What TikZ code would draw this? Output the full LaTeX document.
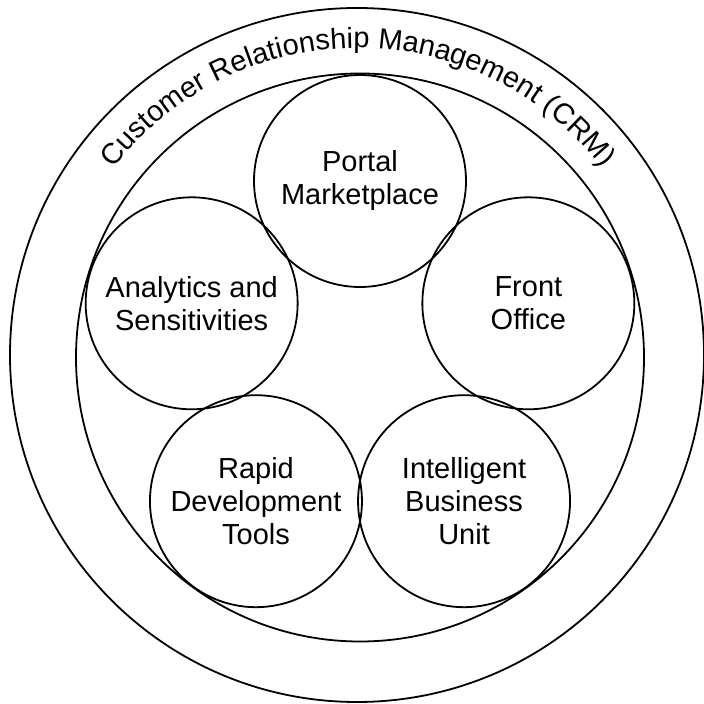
\documentclass[tikz,border=0pt]{standalone}
\usepackage{fontspec}
\setmainfont{Liberation Sans}
\usetikzlibrary{decorations.text,calc}
\tikzset{
  ring/.style={draw, circle, line width=1.8pt, inner sep=0pt},
  part/.style={ring, minimum size=212pt, align=center,
    font=\fontsize{29}{33}\selectfont},
}
\begin{document}
\begin{tikzpicture}[x=1pt,y=1pt]
\useasboundingbox (0,0) rectangle (704,704);
\node[ring, minimum size=694pt] (outer) at (357,349) {};
\node[ring, minimum size=568pt] (inner) at (360,346.5) {};
\coordinate (pc) at (360,346);
\node[part] (portal) at ($(pc)+(90:177)$) {Portal\\Marketplace};
\node[part] (front) at ($(pc)+(18:177)$) {Front\\Office};
\node[part] (ibu) at ($(pc)+(-54:177)$) {Intelligent\\Business\\Unit};
\node[part] (rapid) at ($(pc)+(-126:177)$) {Rapid\\Development\\Tools};
\node[part] (analytics) at ($(pc)+(162:177)$) {Analytics and\\Sensitivities};
\coordinate (tc) at (358,348);
\path[decorate, decoration={text along path, text align=center,
  text={|\fontsize{29}{33}\selectfont|Customer Relationship Management (CRM)}}]
  ($(tc)+(165:308)$) arc[start angle=165, end angle=15, radius=308];
\end{tikzpicture}
\end{document}
